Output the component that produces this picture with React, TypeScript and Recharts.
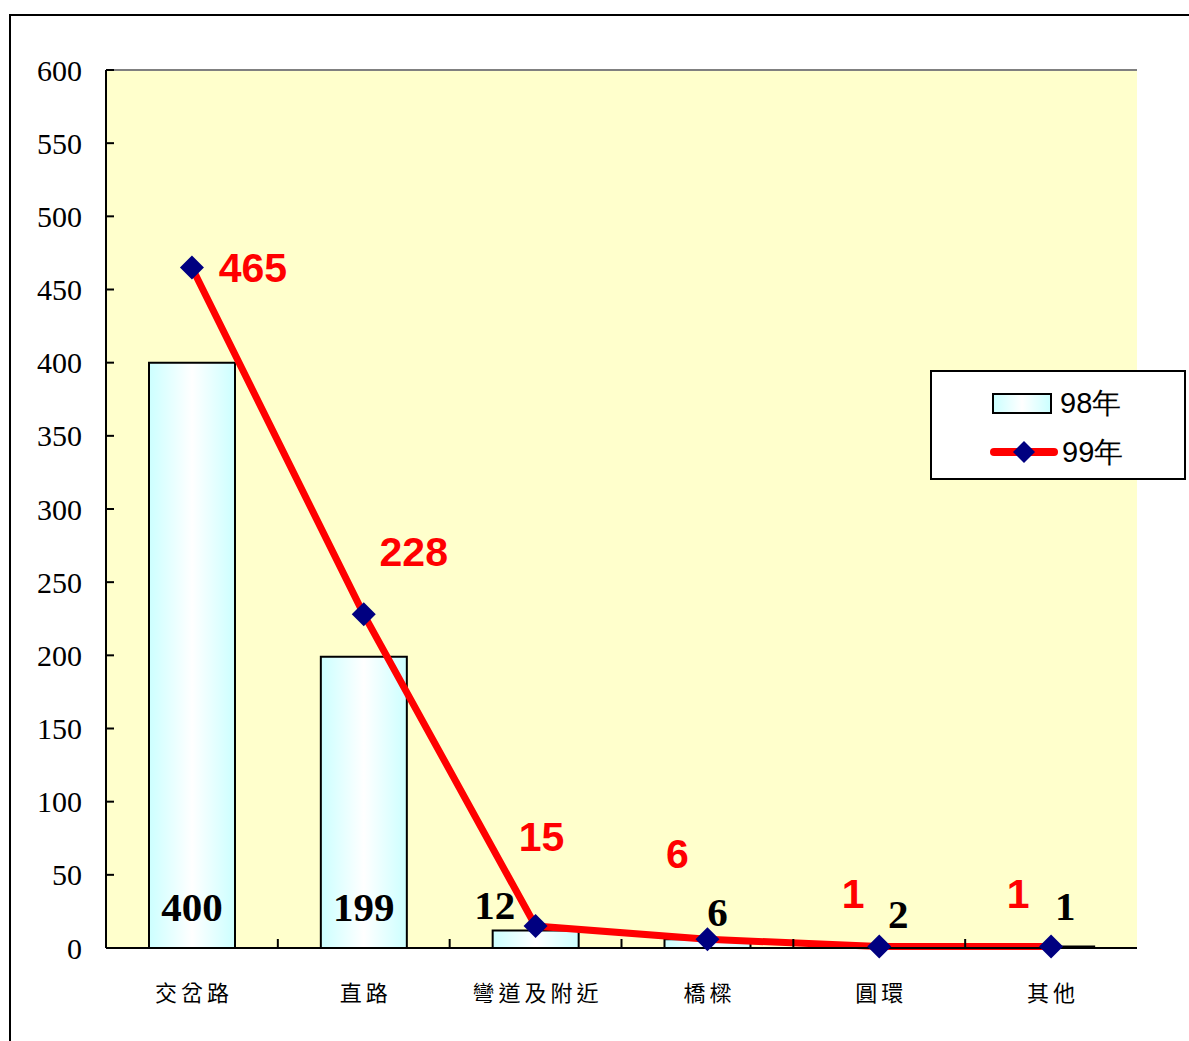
import {
  ComposedChart,
  Bar,
  Line,
  XAxis,
  YAxis,
  CartesianGrid,
  ReferenceLine,
  Legend,
  LabelList,
} from "recharts";

// 事故地點
const categories = ["交岔路", "直路", "彎道及附近", "橋樑", "圓環", "其他"];
const values98 = [400, 199, 12, 6, 2, 1];
const values99 = [465, 228, 15, 6, 1, 1];
const yTicks = [0, 50, 100, 150, 200, 250, 300, 350, 400, 450, 500, 550, 600];

// label nudges (px), the way they were dragged around in the original
const barLabelShift = [
  [0, -41],
  [0, -41],
  [-41, -43],
  [10, -36],
  [19, -34],
  [14, -42],
];
const lineLabelShift = [
  [61, 0],
  [50, -62],
  [6, -89],
  [-30, -85],
  [-26, -53],
  [-33, -53],
];

const data = categories.map((c, i) => ({
  name: c,
  y98: values98[i],
  y99: values99[i],
}));

const SERIF = '"Liberation Serif", "Times New Roman", serif';
const SANS = '"Liberation Sans", Arial, sans-serif';
const CJK = '"Noto Sans CJK TC", "Noto Sans CJK SC", sans-serif';

const Diamond = (props: any) => {
  const { cx, cy } = props;
  if (cx == null || cy == null) return null;
  const r = 12;
  return (
    <polygon
      points={`${cx},${cy - r} ${cx + r},${cy} ${cx},${cy + r} ${cx - r},${cy}`}
      fill="#000080"
    />
  );
};

const XTick = (props: any) => {
  const { x, y, payload, index } = props;
  const half = payload.offset ?? 0;
  return (
    <g>
      <text
        x={x + 2}
        y={y + 43}
        textAnchor="middle"
        dominantBaseline="central"
        fontFamily={CJK}
        fontSize={22}
        letterSpacing={4}
        fill="#000"
      >
        {payload.value}
      </text>
      {index < categories.length - 1 && (
        <line x1={x + half} x2={x + half} y1={y} y2={y - 9} stroke="#000" strokeWidth={2} />
      )}
    </g>
  );
};

const YTick = (props: any) => {
  const { x, y, payload } = props;
  return (
    <text
      x={x}
      y={y}
      textAnchor="end"
      dominantBaseline="central"
      fontFamily={SERIF}
      fontSize={30}
      fill="#000"
    >
      {payload.value}
    </text>
  );
};

const BarValueLabel = (props: any) => {
  const { x, y, width, height, index, value } = props;
  const [dx, dy] = barLabelShift[index] || [0, 0];
  return (
    <text
      x={x + width / 2 + dx}
      y={y + height + dy}
      textAnchor="middle"
      dominantBaseline="central"
      fontFamily={SERIF}
      fontWeight="bold"
      fontSize={41}
      fill="#000"
    >
      {value}
    </text>
  );
};

const LineValueLabel = (props: any) => {
  const { x, y, index, value } = props;
  const [dx, dy] = lineLabelShift[index] || [0, 0];
  return (
    <text
      x={x + dx}
      y={y + dy}
      textAnchor="middle"
      dominantBaseline="central"
      fontFamily={SANS}
      fontWeight="bold"
      fontSize={41}
      fill="#ff0000"
    >
      {value}
    </text>
  );
};

const renderLegend = () => (
  <div
    style={{
      width: 256,
      height: 110,
      boxSizing: "border-box",
      border: "2px solid #000",
      background: "#fff",
      fontFamily: SANS,
      fontSize: 29,
      color: "#000",
      position: "relative",
    }}
  >
    <div style={{ position: "absolute", left: 60, top: 16, display: "flex", alignItems: "center" }}>
      <div
        style={{
          width: 60,
          height: 21,
          boxSizing: "border-box",
          border: "2px solid #000",
          background: "linear-gradient(to right, #ccffff, #ffffff 50%, #ccffff)",
          marginRight: 8,
        }}
      />
      <span style={{ lineHeight: "30px" }}>98年</span>
    </div>
    <div style={{ position: "absolute", left: 58, top: 65, display: "flex", alignItems: "center" }}>
      <svg width={68} height={24} style={{ marginRight: 4 }}>
        <line x1={4} y1={12} x2={64} y2={12} stroke="#ff0000" strokeWidth={8} strokeLinecap="round" />
        <polygon points="34,1 45,12 34,23 23,12" fill="#000080" />
      </svg>
      <span style={{ lineHeight: "30px" }}>99年</span>
    </div>
  </div>
);

export default function App() {
  return (
    <div
      style={{
        position: "absolute",
        left: 0,
        top: 0,
        width: 1189,
        height: 1041,
        overflow: "hidden",
        background: "#fff",
      }}
    >
      <div
        style={{
          position: "absolute",
          left: 9,
          top: 14,
          width: 1300,
          height: 1200,
          border: "2px solid #000",
        }}
      />
      <div style={{ position: "absolute", left: 0, top: 0 }}>
        <ComposedChart
          width={1189}
          height={1041}
          data={data}
          margin={{ top: 70, right: 52, left: 36, bottom: 43 }}
          barSize={86}
        >
          <defs>
            <linearGradient id="barCyan" x1="0" y1="0" x2="1" y2="0">
              <stop offset="0%" stopColor="#ccffff" />
              <stop offset="50%" stopColor="#ffffff" />
              <stop offset="100%" stopColor="#ccffff" />
            </linearGradient>
          </defs>
          <CartesianGrid fill="#ffffcc" horizontal={false} vertical={false} />
          <XAxis
            dataKey="name"
            height={50}
            tickLine={false}
            tickSize={0}
            tickMargin={0}
            axisLine={{ stroke: "#000", strokeWidth: 2 }}
            tick={<XTick />}
            interval={0}
          />
          <YAxis
            yAxisId="left"
            width={70}
            domain={[0, 600]}
            ticks={yTicks}
            interval={0}
            tickSize={-8}
            tickMargin={32}
            axisLine={{ stroke: "#000", strokeWidth: 2 }}
            tickLine={{ stroke: "#000", strokeWidth: 2 }}
            tick={<YTick />}
          />
          <YAxis
            yAxisId="right"
            orientation="right"
            width={0}
            domain={[0, 600]}
            tick={false}
            tickLine={false}
            axisLine={{ stroke: "#808080", strokeWidth: 2 }}
          />
          <ReferenceLine yAxisId="left" y={600} stroke="#808080" strokeWidth={2} />
          <Legend
            layout="horizontal"
            verticalAlign="middle"
            align="center"
            content={renderLegend}
            wrapperStyle={{ left: 930, top: 370, width: 256, height: 110 }}
          />
          <Bar
            yAxisId="left"
            dataKey="y98"
            name="98年"
            fill="url(#barCyan)"
            stroke="#000"
            strokeWidth={2}
            isAnimationActive={false}
          >
            <LabelList dataKey="y98" content={<BarValueLabel />} />
          </Bar>
          <Line
            yAxisId="left"
            type="linear"
            dataKey="y99"
            name="99年"
            stroke="#ff0000"
            strokeWidth={7}
            dot={<Diamond />}
            activeDot={false}
            isAnimationActive={false}
          >
            <LabelList dataKey="y99" content={<LineValueLabel />} />
          </Line>
        </ComposedChart>
      </div>
    </div>
  );
}
